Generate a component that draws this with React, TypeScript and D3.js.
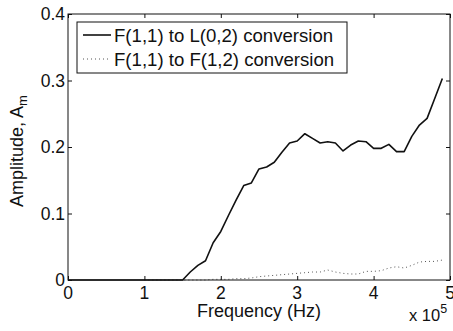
import React, { useEffect, useRef } from 'react';
import * as d3 from 'd3';

// frequency samples (x 10^5 Hz)
const freq = [
  0.0, 0.1, 0.2, 0.3, 0.4, 0.5, 0.6, 0.7, 0.8, 0.9,
  1.0, 1.1, 1.2, 1.3, 1.4, 1.5, 1.6, 1.7, 1.8, 1.9,
  2.0, 2.1, 2.2, 2.3, 2.4, 2.5, 2.6, 2.7, 2.8, 2.9,
  3.0, 3.1, 3.2, 3.3, 3.4, 3.5, 3.6, 3.7, 3.8, 3.9,
  4.0, 4.1, 4.2, 4.3, 4.4, 4.5, 4.6, 4.7, 4.8, 4.9,
];

// F(1,1) -> L(0,2)
const toL02 = [
  0, 0, 0, 0, 0, 0, 0, 0, 0, 0,
  0, 0, 0, 0, 0, 0, 0.012, 0.022, 0.029, 0.056,
  0.073, 0.097, 0.120, 0.142, 0.146, 0.167, 0.170, 0.177, 0.192, 0.206,
  0.209, 0.220, 0.213, 0.206, 0.208, 0.206, 0.194, 0.203, 0.209, 0.208,
  0.198, 0.198, 0.204, 0.193, 0.193, 0.216, 0.233, 0.243, 0.273, 0.303,
];

// F(1,1) -> F(1,2), null where not plotted
const toF12 = [
  null, null, null, null, null, null, null, null, null, null,
  0, 0, 0, 0, 0, 0, 0, 0, 0, 0.001,
  0.001, 0.001, 0.002, 0.002, 0.003, 0.005, 0.006, 0.007, 0.008, 0.009,
  0.010, 0.011, 0.012, 0.012, 0.015, 0.012, 0.010, 0.009, 0.009, 0.013,
  0.013, 0.014, 0.018, 0.020, 0.018, 0.022, 0.027, 0.028, 0.028, 0.030,
];

const xTicks = [0, 1, 2, 3, 4, 5];
const yTicks = [0, 0.1, 0.2, 0.3, 0.4];
const legendLabels = ['F(1,1) to L(0,2) conversion', 'F(1,1) to F(1,2) conversion'];

const W = 453;
const H = 331;
const FONT = 'Liberation Sans, Arial, Helvetica, sans-serif';
const INK = '#111';

export default function App() {
  const svgRef = useRef<SVGSVGElement>(null);

  useEffect(() => {
    if (!svgRef.current) return;
    const svg = d3.select(svgRef.current);
    svg.selectAll('*').remove();

    const x = d3.scaleLinear().domain([0, 5]).range([68, 450]);
    const y = d3.scaleLinear().domain([0, 0.4]).range([280, 14]);
    const [x0, x1] = x.range();
    const [y0, y1] = y.range();

    svg.append('rect').attr('width', W).attr('height', H).attr('fill', '#fff');

    // data lines
    const pts = (vals: (number | null)[]) =>
      freq.map((f, i) => ({ f, v: vals[i] })).filter(d => d.v !== null) as { f: number; v: number }[];

    const line = d3.line<{ f: number; v: number }>()
      .x(d => x(d.f))
      .y(d => y(d.v));

    svg.append('path')
      .attr('d', line(pts(toF12)))
      .attr('fill', 'none')
      .attr('stroke', '#555')
      .attr('stroke-width', 1)
      .attr('stroke-dasharray', '1,3');

    svg.append('path')
      .attr('d', line(pts(toL02)))
      .attr('fill', 'none')
      .attr('stroke', INK)
      .attr('stroke-width', 1.6)
      .attr('stroke-linejoin', 'round');

    // axes box + inward ticks
    const axisStyle = (g: d3.Selection<SVGGElement, unknown, null, undefined>) => {
      g.select('.domain').remove();
      g.selectAll('.tick line').attr('stroke', INK);
    };

    svg.append('g').attr('transform', `translate(0,${y0})`)
      .call(d3.axisBottom(x).tickValues(xTicks).tickSizeInner(-4).tickSizeOuter(0).tickFormat(() => ''))
      .call(axisStyle);
    svg.append('g').attr('transform', `translate(0,${y1})`)
      .call(d3.axisTop(x).tickValues(xTicks).tickSizeInner(-4).tickSizeOuter(0).tickFormat(() => ''))
      .call(axisStyle);
    svg.append('g').attr('transform', `translate(${x0},0)`)
      .call(d3.axisLeft(y).tickValues(yTicks).tickSizeInner(-4).tickSizeOuter(0).tickFormat(() => ''))
      .call(axisStyle);
    svg.append('g').attr('transform', `translate(${x1},0)`)
      .call(d3.axisRight(y).tickValues(yTicks).tickSizeInner(-4).tickSizeOuter(0).tickFormat(() => ''))
      .call(axisStyle);

    svg.append('rect')
      .attr('x', x0).attr('y', y1)
      .attr('width', x1 - x0).attr('height', y0 - y1)
      .attr('fill', 'none').attr('stroke', INK).attr('stroke-width', 1);

    // tick labels
    svg.append('g').selectAll('text').data(xTicks).join('text')
      .attr('x', d => x(d)).attr('y', 299)
      .attr('text-anchor', 'middle')
      .attr('font-family', FONT).attr('font-size', 17.5).attr('fill', INK)
      .text(d => String(d));

    svg.append('g').selectAll('text').data(yTicks).join('text')
      .attr('x', x0 - 3).attr('y', d => y(d) + 6)
      .attr('text-anchor', 'end')
      .attr('font-family', FONT).attr('font-size', 17.5).attr('fill', INK)
      .text(d => (d === 0 ? '0' : d.toFixed(1)));

    // axis titles
    svg.append('text')
      .attr('x', 259).attr('y', 317)
      .attr('text-anchor', 'middle')
      .attr('font-family', FONT).attr('font-size', 18).attr('fill', INK)
      .text('Frequency (Hz)');

    const yl = svg.append('text')
      .attr('transform', 'translate(23,151) rotate(-90)')
      .attr('text-anchor', 'middle')
      .attr('font-family', FONT).attr('font-size', 18).attr('fill', INK);
    yl.append('tspan').text('Amplitude, A');
    yl.append('tspan').attr('dy', 4).attr('font-size', 13).text('m');

    const xm = svg.append('text')
      .attr('x', 409).attr('y', 321)
      .attr('font-family', FONT).attr('font-size', 16.5).attr('fill', INK);
    xm.append('tspan').text('x 10');
    xm.append('tspan').attr('dy', -8).attr('font-size', 12.5).text('5');

    // legend
    const lg = svg.append('g');
    lg.append('rect')
      .attr('x', 77).attr('y', 22).attr('width', 270).attr('height', 51)
      .attr('fill', '#fff').attr('stroke', INK).attr('stroke-width', 1);
    const rows = [
      { label: legendLabels[0], yy: 35, dash: null as string | null, color: INK, w: 1.6 },
      { label: legendLabels[1], yy: 59, dash: '1,3', color: '#555', w: 1 },
    ];
    rows.forEach(r => {
      lg.append('line')
        .attr('x1', 83).attr('x2', 111).attr('y1', r.yy).attr('y2', r.yy)
        .attr('stroke', r.color).attr('stroke-width', r.w)
        .attr('stroke-dasharray', r.dash);
      lg.append('text')
        .attr('x', 114).attr('y', r.yy + 6.5)
        .attr('font-family', FONT).attr('font-size', 18.6).attr('fill', INK)
        .text(r.label);
    });
  }, []);

  return (
    <svg
      ref={svgRef}
      width={W}
      height={H}
      style={{ position: 'absolute', left: 0, top: 0, display: 'block' }}
    />
  );
}
